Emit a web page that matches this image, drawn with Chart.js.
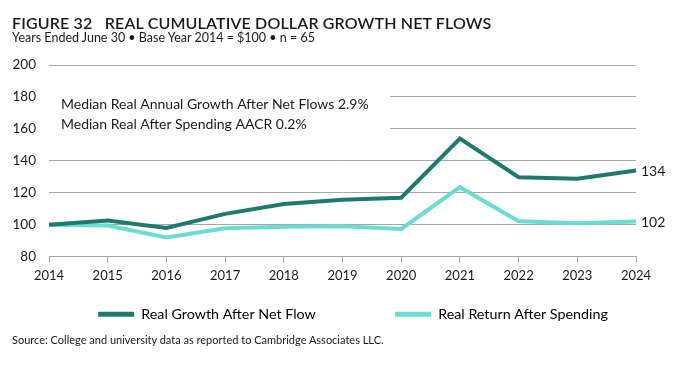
<!DOCTYPE html>
<html>
<head>
<meta charset="utf-8">
<script src="https://cdn.jsdelivr.net/npm/chart.js@4.4.1/dist/chart.umd.min.js"></script>
<style>
  body { margin: 0; background: #fff; width: 684px; height: 367px; overflow: hidden; position: relative; font-family: Lato, sans-serif; }
  #wrap { position: absolute; left: 0; top: 0; width: 684px; height: 367px; }
  #title { position: absolute; left: 12px; top: 13px; font-size: 16px; font-weight: 600; color: #1a1a1a; letter-spacing: 0.15px; white-space: nowrap; }
  #subtitle { position: absolute; left: 12px; top: 30px; font-size: 12.5px; color: #1a1a1a; white-space: nowrap; }
  #source { position: absolute; left: 12px; top: 333px; font-size: 11px; color: #1a1a1a; white-space: nowrap; }
</style>
</head>
<body>
<div id="wrap"><canvas id="chart" width="684" height="367"></canvas></div>
<div id="title">FIGURE 32&nbsp;&nbsp; REAL CUMULATIVE DOLLAR GROWTH NET FLOWS</div>
<div id="subtitle">Years Ended June 30 • Base Year 2014 = $100 • n = 65</div>
<div id="source">Source: College and university data as reported to Cambridge Associates LLC.</div>
<script>
// Chart data
const years = ["2014","2015","2016","2017","2018","2019","2020","2021","2022","2023","2024"];
const growthNetFlow = [100, 102.6, 98, 106.8, 113, 115.6, 116.9, 154, 129.8, 128.8, 134];
const returnAfterSpending = [100, 99.5, 92, 97.8, 98.8, 99, 97.4, 123.5, 102.2, 101, 102];
const yMin = 80, yMax = 200, yStep = 20;
const notes = ["Median Real Annual Growth After Net Flows 2.9%", "Median Real After Spending AACR 0.2%"];
const endLabels = ["134", "102"];

const darkTeal = "#1f7a6e";
const lightTeal = "#6adcd2";
const gridGray = "#a6a6a6";
const font = "Lato, sans-serif";

// white note box over the grid, the notes, end labels, legend placement
const notesPlugin = {
  id: "notes",
  afterLayout(chart) {
    const lg = chart.legend;
    lg.top = 297;
    lg.bottom = lg.top + lg.height;
    lg.left += 35;
    lg.right += 35;
  },
  beforeDatasetsDraw(chart) {
    const { ctx, chartArea, scales } = chart;
    const y = scales.y;
    const top = y.getPixelForValue(187);
    const bottom = y.getPixelForValue(147);
    ctx.save();
    ctx.fillStyle = "#fff";
    ctx.fillRect(chartArea.left, top, 341, bottom - top);
    ctx.fillStyle = "#1a1a1a";
    ctx.font = "14px " + font;
    ctx.textBaseline = "alphabetic";
    ctx.fillText(notes[0], chartArea.left + 12, 109);
    ctx.fillText(notes[1], chartArea.left + 12, 129);
    ctx.restore();
  },
  afterDatasetsDraw(chart) {
    const { ctx, chartArea } = chart;
    ctx.save();
    ctx.fillStyle = "#1a1a1a";
    ctx.font = "14px " + font;
    ctx.textBaseline = "middle";
    chart.data.datasets.forEach((ds, i) => {
      const meta = chart.getDatasetMeta(i);
      const pt = meta.data[meta.data.length - 1];
      ctx.fillText(endLabels[i], chartArea.right + 5, pt.y + 1);
    });
    ctx.restore();
  }
};

new Chart(document.getElementById("chart"), {
  type: "line",
  data: {
    labels: years,
    datasets: [
      { label: "Real Growth After Net Flow", data: growthNetFlow, borderColor: darkTeal, backgroundColor: darkTeal, borderWidth: 4, pointRadius: 0, tension: 0 },
      { label: "Real Return After Spending", data: returnAfterSpending, borderColor: lightTeal, backgroundColor: lightTeal, borderWidth: 4, pointRadius: 0, tension: 0 }
    ]
  },
  options: {
    responsive: false,
    animation: false,
    layout: { padding: { top: 65, right: 48, left: 0, bottom: 48 } },
    plugins: {
      tooltip: { enabled: false },
      legend: {
        position: "bottom",
        labels: {
          color: "#1a1a1a",
          font: { family: font, size: 14.3 },
          boxWidth: 36,
          boxHeight: 5,
          padding: 10,
          // trailing no-break spaces widen the gap between the two items
          generateLabels: (chart) => chart.data.datasets.map((ds, i) => ({
            text: ds.label + (i === 0 ? "\u00a0".repeat(19) : ""),
            fillStyle: ds.borderColor, strokeStyle: ds.borderColor, lineWidth: 0, hidden: false, datasetIndex: i
          }))
        }
      }
    },
    scales: {
      x: {
        offset: false,
        grid: { display: true, drawOnChartArea: false, drawTicks: true, tickLength: 6, color: gridGray },
        border: { display: true, color: gridGray, width: 1 },
        ticks: { color: "#1a1a1a", font: { family: font, size: 13 }, padding: 5, maxRotation: 0 },
        afterFit: (scale) => { scale.height = 28; }
      },
      y: {
        min: yMin, max: yMax,
        grid: { color: gridGray, drawTicks: false },
        border: { display: false },
        ticks: { stepSize: yStep, color: "#1a1a1a", font: { family: font, size: 13.5 }, padding: 13 },
        afterFit: (scale) => { scale.width = 49; }
      }
    }
  },
  plugins: [notesPlugin]
});
</script>
</body>
</html>
